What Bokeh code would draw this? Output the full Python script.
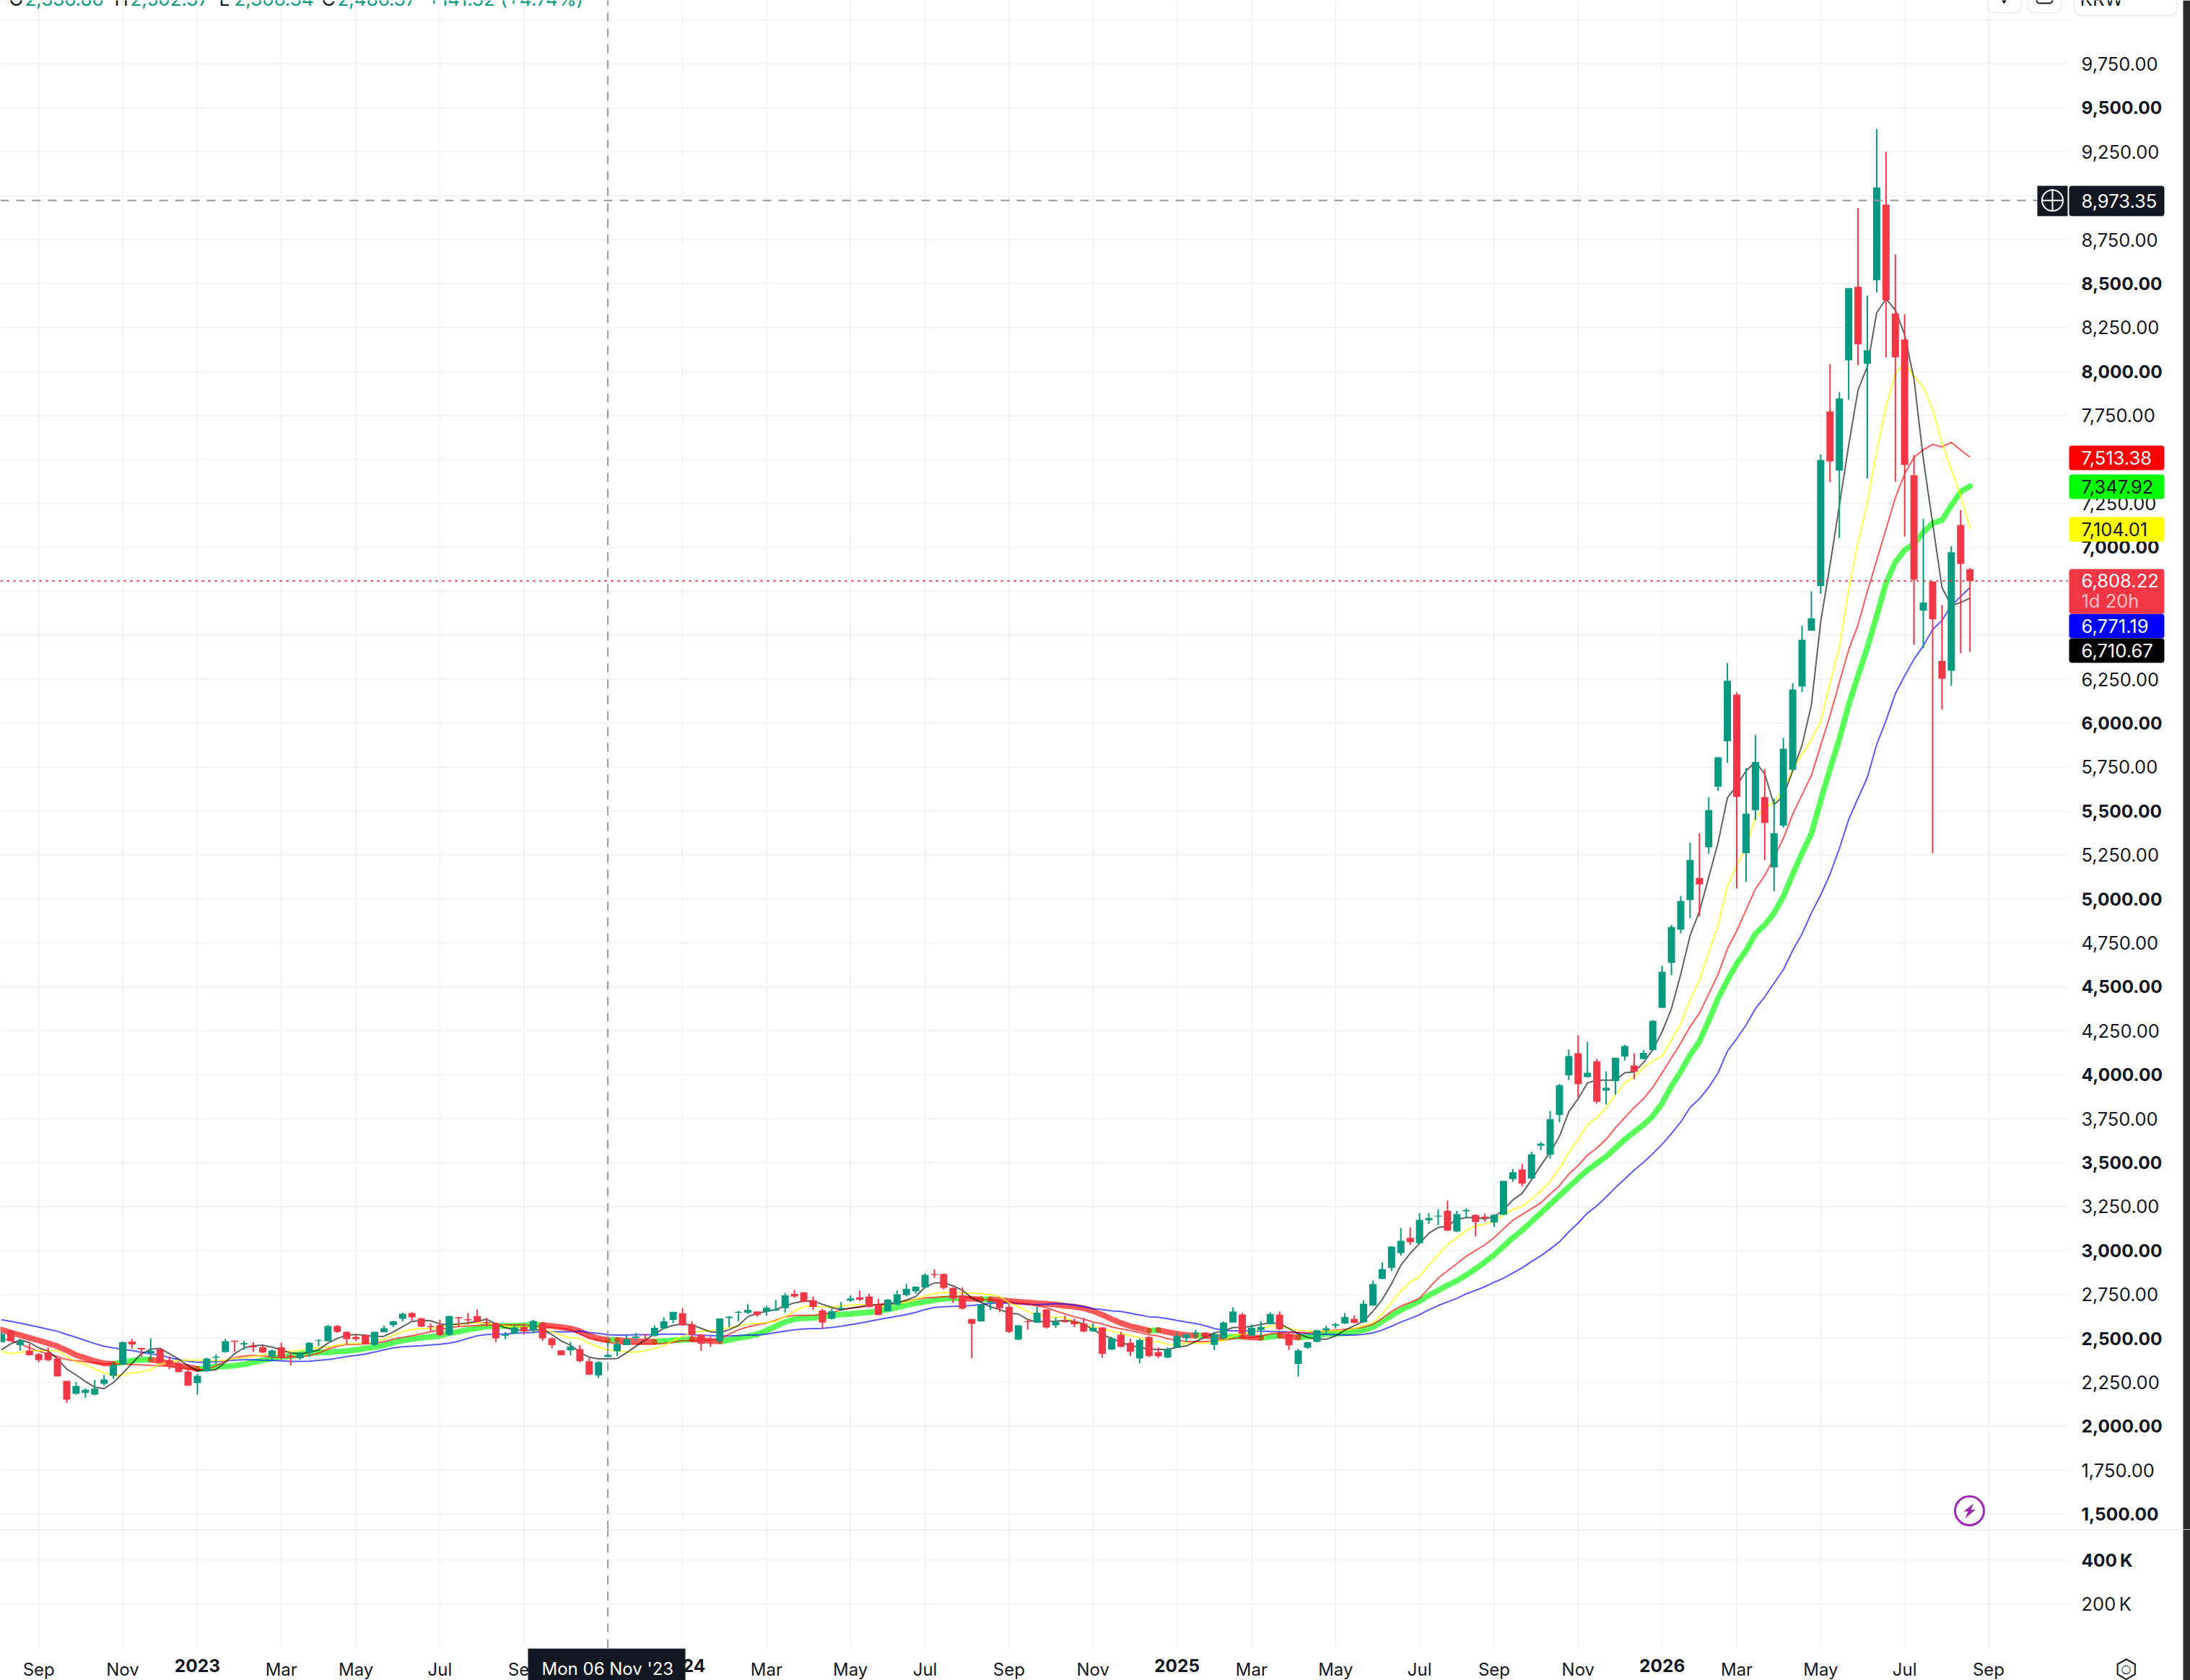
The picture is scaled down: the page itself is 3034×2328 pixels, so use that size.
from bokeh.embed import file_html
from bokeh.resources import INLINE
from bokeh.plotting import figure
from bokeh.layouts import column
from bokeh.models import (BoxAnnotation, ColumnDataSource, FixedTicker, Label,
                          LinearAxis, NumeralTickFormatter, Range1d)

# ---------- weekly candles ----------
opens = [2478,2541,2461,2431,2410,2419,2385,2258,2184,2189,
 2180,2242,2287,2352,2482,2446,2416,2440,2376,2357,
 2311,2246,2313,2390,2422,2487,2466,2458,2449,2397,
 2449,2402,2387,2419,2487,2484,2570,2537,2508,2519,
 2463,2535,2576,2611,2644,2614,2570,2576,2520,2620,
 2609,2627,2593,2587,2515,2528,2564,2546,2585,2500,
 2432,2432,2439,2370,2289,2394,2427,2462,2501,2521,
 2514,2557,2605,2643,2580,2521,2495,2485,2616,2646,
 2646,2653,2653,2658,2672,2753,2761,2717,2659,2611,
 2666,2715,2733,2738,2692,2654,2692,2746,2768,2789,
 2865,2866,2787,2745,2610,2597,2702,2712,2679,2493,
 2597,2590,2664,2574,2600,2598,2585,2541,2562,2436,
 2521,2475,2386,2508,2422,2391,2447,2501,2526,2533,
 2463,2501,2590,2636,2516,2549,2582,2635,2526,2355,
 2447,2480,2546,2572,2585,2611,2592,2687,2838,2901,
 2985,3072,3041,3172,3193,3226,3108,3223,3202,3192,
 3159,3203,3406,3461,3409,3596,3545,3771,3996,4122,
 3986,4076,3910,3963,4103,4052,4089,4140,4380,4636,
 4825,4993,5119,5293,5638,5897,6162,5260,5505,5579,
 5179,5417,5734,6208,6526,6780,7772,7436,8064,8482,
 8044,8520,8950,8330,8182,7410,6640,6805,6354,6298,
 7127,6875]
closes = [2526,2485,2484,2404,2376,2376,2284,2151,2229,2208,
 2214,2266,2349,2479,2466,2437,2429,2364,2352,2308,
 2231,2287,2385,2396,2484,2481,2473,2449,2420,2431,
 2388,2396,2414,2475,2491,2570,2537,2496,2496,2466,
 2537,2558,2597,2640,2620,2567,2564,2519,2627,2614,
 2603,2594,2587,2500,2522,2562,2540,2599,2500,2461,
 2404,2453,2371,2294,2365,2406,2468,2495,2511,2518,
 2560,2597,2651,2574,2521,2470,2488,2613,2623,2651,
 2662,2633,2674,2666,2745,2738,2708,2679,2590,2654,
 2674,2727,2720,2679,2633,2720,2751,2782,2794,2861,
 2860,2787,2726,2669,2583,2692,2708,2672,2537,2574,
 2592,2646,2562,2595,2592,2580,2539,2559,2412,2500,
 2452,2424,2491,2399,2398,2437,2513,2523,2533,2510,
 2523,2590,2653,2526,2561,2565,2638,2552,2460,2431,
 2478,2546,2557,2580,2621,2588,2697,2809,2894,3022,
 3055,3047,3174,3185,3198,3113,3207,3230,3162,3184,
 3202,3396,3445,3381,3547,3608,3747,3940,4106,3946,
 4011,3846,3925,4096,4163,4017,4124,4306,4585,4840,
 4988,5221,5082,5505,5805,6241,5580,5485,5779,5432,
 5374,5854,6191,6474,6596,7496,7489,7846,8474,8155,
 8121,9047,8405,8081,7469,6816,6686,6591,6252,6972,
 6906,6808]
highs = [2534,2549,2496,2470,2416,2449,2391,2258,2252,2216,
 2264,2292,2360,2482,2497,2446,2500,2443,2397,2370,
 2334,2299,2390,2410,2496,2487,2485,2479,2458,2437,
 2476,2419,2419,2479,2494,2576,2576,2540,2522,2522,
 2537,2573,2600,2646,2649,2617,2585,2606,2627,2623,
 2644,2664,2617,2591,2537,2573,2585,2606,2594,2506,
 2432,2479,2462,2386,2370,2480,2485,2516,2531,2524,
 2574,2620,2651,2672,2597,2524,2511,2613,2626,2656,
 2694,2654,2685,2718,2759,2776,2764,2738,2669,2669,
 2708,2745,2771,2754,2725,2725,2774,2810,2796,2870,
 2893,2870,2791,2791,2610,2695,2713,2725,2695,2577,
 2610,2679,2667,2618,2630,2613,2616,2587,2562,2508,
 2537,2498,2498,2511,2449,2449,2533,2526,2549,2536,
 2536,2597,2677,2644,2579,2597,2648,2653,2530,2441,
 2482,2549,2572,2588,2644,2631,2717,2827,2932,3024,
 3128,3131,3213,3213,3235,3284,3226,3239,3205,3210,
 3208,3396,3463,3493,3562,3618,3794,3948,4142,4224,
 4188,4089,4019,4098,4170,4122,4140,4311,4619,4852,
 5017,5320,5374,5579,5808,6343,6176,5744,5933,5739,
 5570,5916,6227,6554,6749,7529,8042,7882,8474,8930,
 8432,9380,9250,8666,8326,7525,7161,6805,6671,7006,
 7211,6882]
lows = [2478,2485,2431,2404,2364,2370,2284,2133,2180,2161,
 2177,2231,2270,2349,2443,2394,2379,2358,2325,2307,
 2229,2180,2311,2352,2419,2422,2435,2422,2416,2379,
 2379,2346,2379,2394,2455,2482,2531,2464,2485,2464,
 2455,2534,2564,2596,2600,2564,2540,2512,2515,2570,
 2579,2591,2567,2479,2496,2525,2522,2528,2485,2443,
 2404,2404,2363,2291,2274,2393,2399,2462,2488,2478,
 2511,2554,2587,2572,2510,2429,2452,2475,2564,2598,
 2639,2623,2630,2656,2646,2731,2705,2662,2554,2607,
 2656,2708,2712,2676,2631,2653,2690,2738,2754,2784,
 2843,2778,2702,2664,2388,2595,2662,2649,2531,2490,
 2549,2587,2556,2559,2590,2564,2534,2537,2389,2434,
 2449,2399,2358,2393,2388,2388,2445,2480,2503,2498,
 2434,2495,2590,2496,2513,2506,2579,2547,2434,2283,
 2441,2477,2529,2556,2582,2585,2590,2685,2837,2884,
 2970,3032,3037,3151,3142,3111,3105,3184,3080,3164,
 3134,3202,3391,3364,3406,3570,3521,3729,3969,3871,
 3984,3836,3830,3887,4081,3974,4088,4139,4380,4566,
 4804,4891,4900,5257,5614,5774,5060,5097,5448,5220,
 5043,5405,5732,6176,6525,6736,7370,7052,7839,8036,
 7392,8450,8080,7373,7061,6446,6426,5260,6077,6213,
 6397,6406]

# ---------- moving averages ----------
ma_black = [2435,2469,2491,2476,2446,2428,2385,2325,2292,2255,
 2222,2214,2249,2302,2358,2413,2438,2443,2413,2382,
 2344,2317,2317,2322,2364,2413,2446,2458,2461,2450,
 2434,2417,2413,2419,2435,2473,2500,2518,2522,2518,
 2511,2512,2537,2567,2596,2602,2600,2582,2576,2582,
 2588,2597,2609,2582,2561,2549,2544,2549,2549,2522,
 2485,2461,2420,2393,2383,2383,2385,2418,2455,2491,
 2524,2557,2574,2582,2577,2557,2537,2533,2549,2574,
 2623,2643,2653,2664,2685,2702,2712,2713,2694,2676,
 2662,2672,2680,2689,2692,2692,2702,2718,2738,2791,
 2815,2815,2799,2774,2730,2705,2680,2664,2643,2639,
 2607,2593,2597,2598,2602,2597,2582,2549,2521,2500,
 2478,2459,2449,2439,2437,2437,2449,2457,2482,2506,
 2531,2542,2562,2562,2569,2579,2588,2585,2556,2526,
 2506,2495,2495,2514,2547,2572,2597,2654,2720,2810,
 2917,2983,3041,3098,3131,3139,3177,3187,3187,3180,
 3193,3230,3287,3325,3402,3484,3558,3649,3789,3863,
 3953,3969,3969,3969,4011,4015,4068,4142,4244,4375,
 4571,4792,4928,5124,5320,5575,5643,5728,5779,5711,
 5536,5584,5728,5873,6103,6576,6899,7238,7580,7894,
 8028,8334,8413,8350,8209,7957,7502,7137,6771,6669,
 6686,6711]
ma_yellow = [2425,2413,2420,2428,2431,2431,2431,2397,2367,2352,
 2325,2304,2289,2292,2304,2310,2322,2355,2364,2375,
 2376,2375,2376,2373,2375,2385,2390,2397,2405,2416,
 2420,2428,2432,2443,2446,2450,2461,2470,2470,2473,
 2485,2496,2518,2537,2552,2556,2556,2564,2576,2579,
 2585,2591,2587,2576,2570,2564,2564,2564,2552,2537,
 2518,2503,2500,2472,2450,2434,2429,2422,2422,2429,
 2442,2459,2488,2511,2533,2541,2544,2554,2560,2570,
 2582,2585,2590,2598,2623,2656,2680,2685,2679,2676,
 2685,2689,2692,2692,2685,2685,2697,2708,2722,2741,
 2754,2761,2761,2758,2758,2754,2748,2738,2702,2680,
 2653,2636,2623,2620,2618,2593,2574,2564,2557,2541,
 2528,2516,2505,2483,2482,2465,2462,2473,2473,2473,
 2482,2490,2515,2526,2536,2556,2569,2572,2556,2547,
 2542,2539,2542,2542,2547,2556,2572,2588,2638,2704,
 2769,2819,2852,2917,2975,3032,3073,3115,3139,3151,
 3164,3205,3233,3249,3295,3337,3394,3468,3558,3632,
 3715,3756,3813,3887,3953,3986,4043,4076,4106,4197,
 4290,4426,4537,4699,4852,5073,5192,5294,5465,5516,
 5550,5618,5737,5822,5907,6010,6230,6430,6763,7030,
 7250,7549,7800,7989,8051,7973,7910,7784,7596,7439,
 7297,7104]
ma_red = [2500,2485,2470,2446,2428,2410,2397,2379,2373,2367,
 2361,2355,2355,2355,2352,2349,2346,2344,2340,2334,
 2328,2322,2325,2344,2370,2390,2400,2403,2400,2394,
 2391,2394,2394,2403,2416,2440,2455,2466,2466,2470,
 2473,2481,2496,2506,2515,2526,2537,2549,2561,2567,
 2570,2573,2576,2576,2576,2576,2576,2570,2567,2564,
 2558,2549,2524,2500,2488,2478,2470,2468,2467,2467,
 2468,2472,2478,2487,2488,2488,2488,2495,2524,2549,
 2565,2577,2587,2603,2623,2631,2631,2631,2639,2646,
 2662,2672,2677,2685,2692,2702,2702,2713,2722,2730,
 2733,2736,2738,2738,2730,2722,2718,2713,2708,2702,
 2697,2685,2676,2656,2639,2623,2610,2593,2582,2565,
 2554,2544,2533,2521,2514,2498,2490,2482,2482,2482,
 2485,2490,2498,2506,2506,2513,2526,2531,2534,2534,
 2531,2536,2542,2547,2552,2556,2564,2580,2613,2654,
 2684,2704,2728,2786,2843,2884,2925,2967,3000,3032,
 3073,3123,3172,3205,3238,3271,3320,3369,3435,3484,
 3542,3583,3632,3698,3756,3813,3863,3928,4010,4095,
 4180,4273,4350,4460,4571,4716,4818,4937,5056,5133,
 5235,5345,5482,5592,5703,5873,6043,6231,6418,6559,
 6750,6925,7103,7282,7418,7512,7554,7585,7571,7597,
 7554,7513]
ma_thick = [2549,2533,2518,2503,2488,2472,2455,2431,2405,2388,
 2370,2358,2355,2364,2373,2379,2379,2370,2355,2344,
 2337,2326,2331,2340,2340,2345,2352,2364,2375,2385,
 2394,2400,2410,2416,2420,2420,2425,2428,2435,2443,
 2450,2461,2476,2488,2496,2503,2509,2515,2530,2538,
 2549,2559,2567,2570,2571,2571,2574,2576,2576,2570,
 2564,2556,2541,2515,2500,2490,2491,2486,2483,2482,
 2481,2485,2489,2491,2495,2491,2485,2483,2491,2503,
 2511,2524,2544,2570,2593,2610,2615,2616,2623,2631,
 2636,2639,2644,2648,2656,2664,2676,2689,2700,2708,
 2718,2725,2728,2728,2725,2722,2722,2718,2713,2708,
 2705,2700,2697,2692,2685,2680,2672,2656,2634,2610,
 2587,2569,2557,2544,2547,2536,2526,2519,2516,2516,
 2510,2506,2510,2510,2506,2503,2510,2516,2510,2506,
 2510,2515,2526,2526,2529,2536,2547,2564,2597,2630,
 2662,2687,2712,2745,2773,2802,2827,2860,2896,2934,
 2975,3024,3073,3115,3164,3213,3263,3312,3361,3410,
 3457,3496,3534,3583,3632,3674,3715,3764,3838,3935,
 4018,4112,4188,4307,4435,4537,4631,4707,4801,4852,
 4920,5014,5141,5260,5371,5560,5740,5910,6105,6269,
 6431,6610,6797,6916,6984,7018,7086,7137,7154,7239,
 7316,7348]
ma_blue = [2606,2597,2587,2575,2564,2552,2540,2522,2506,2488,
 2470,2455,2446,2438,2431,2420,2412,2405,2390,2379,
 2370,2364,2364,2367,2372,2376,2378,2378,2376,2375,
 2372,2369,2369,2370,2375,2379,2387,2397,2403,2411,
 2422,2435,2446,2452,2455,2458,2462,2467,2473,2484,
 2500,2515,2522,2523,2525,2529,2531,2534,2540,2538,
 2537,2537,2541,2533,2528,2521,2519,2519,2521,2521,
 2521,2524,2524,2524,2521,2518,2516,2514,2514,2516,
 2519,2519,2524,2533,2541,2549,2554,2556,2557,2562,
 2569,2577,2587,2597,2607,2616,2626,2636,2648,2664,
 2676,2680,2682,2684,2687,2692,2699,2702,2702,2699,
 2694,2692,2694,2697,2695,2689,2680,2669,2664,2656,
 2653,2643,2633,2623,2620,2612,2602,2593,2585,2572,
 2556,2547,2542,2542,2542,2541,2539,2538,2536,2531,
 2526,2524,2523,2521,2519,2519,2523,2531,2547,2569,
 2592,2613,2635,2662,2687,2707,2728,2753,2773,2794,
 2819,2843,2871,2901,2937,2970,3008,3049,3106,3156,
 3213,3254,3304,3358,3407,3457,3501,3550,3604,3665,
 3731,3813,3863,3928,4010,4134,4205,4282,4375,4443,
 4520,4597,4707,4801,4920,5022,5141,5286,5452,5572,
 5691,5878,6014,6167,6269,6363,6440,6533,6584,6669,
 6720,6771]

# ---------- ticks ----------
month_idx = [4,13,30,38,47,56,82,91,99,108,117,134,143,152,160,169,186,195,204,213]
month_lbl = ["Sep","Nov","Mar","May","Jul","Sep","Mar","May","Jul","Sep","Nov",
             "Mar","May","Jul","Sep","Nov","Mar","May","Jul","Sep"]
year_idx = [21,73,126,178]
year_lbl = ["2023","2024","2025","2026"]
grid_idx = month_idx + year_idx + [65]
price_ticks_regular = [1750,2250,2750,3250,3750,4250,4750,5250,5750,6250,7250,7750,8250,8750,9250,9750]
price_ticks_bold = [1500,2000,2500,3000,3500,4000,4500,5000,5500,6000,7000,8000,8500,9500]
price_grid = list(range(1500, 10001, 250))
volume_ticks = [200000, 400000]
last_price, cross_price, cross_bar = 6808.22, 8973.35, 65

legend_parts = [("O", 12, "#131722"), ("2,336.86", 34, "#089981"),
                ("H", 158, "#131722"), ("2,502.37", 180, "#089981"),
                ("L", 303, "#131722"), ("2,306.34", 324, "#089981"),
                ("C", 445, "#131722"), ("2,486.37", 467, "#089981"),
                ("+141.32 (+4.74%)", 592, "#089981")]

# (text, top px, bottom px, fill, text colour)
tags = [("7,513.38",617,651,"#ff0000","#ffffff"),
        ("7,347.92",657,691,"#00ff00","#131722"),
        ("7,104.01",716,750,"#ffff00","#131722"),
        ("6,771.19",850,884,"#0000ff","#ffffff"),
        ("6,710.67",884,918,"#000000","#ffffff")]

GREEN, RED, INK = "#089981", "#f23645", "#131722"
GRID = "#f3f3f4"
CROSS = "#9598a1"
FONT = "Inter"
SIZE = "25.5px"
BOLD_SIZE = "24.5px"
TIME_SIZE = "24px"

# page pixel -> data helpers for the chart furniture
def x2i(px): return (px - 1.5) / 12.925
def y2v(py): return 1500 + (2097.7 - py) / 0.2436
def y2k(py): return (2283 - py) / 61 * 200000

W = 3034
PANE_RIGHT = x2i(2864)
x_range = Range1d(x2i(0), x2i(W))

def make_fig(height, yr):
    f = figure(width=W, height=height, x_range=x_range, y_range=yr,
               output_backend="svg", toolbar_location=None, tools="",
               x_axis_location=None, y_axis_location=None,
               min_border_left=0, min_border_top=0, min_border_bottom=0, min_border_right=0,
               outline_line_color=None, background_fill_color="#ffffff", border_fill_color="#ffffff")
    f.grid.visible = False
    return f

def make_axis(ticks, standoff, bold=False, fixed=PANE_RIGHT, size=None, **kw):
    a = LinearAxis(ticker=FixedTicker(ticks=ticks), fixed_location=fixed, **kw)
    a.axis_line_color = None
    a.major_tick_line_color = None
    a.minor_tick_line_color = None
    a.major_label_text_font = FONT
    a.major_label_text_font_size = size or (BOLD_SIZE if bold else SIZE)
    a.major_label_text_color = INK
    a.major_label_text_font_style = "bold" if bold else "normal"
    a.major_tick_in = 0
    a.major_tick_out = 0
    a.major_label_standoff = standoff
    return a

def box(fig, off, l, r, t, b, fill, radius=0, line=None):
    fig.add_layout(BoxAnnotation(left=l, right=r, top=t-off, bottom=b-off,
                                 left_units="canvas", right_units="canvas",
                                 top_units="canvas", bottom_units="canvas",
                                 fill_color=fill or "#ffffff", fill_alpha=1 if fill else 0,
                                 line_color=line, line_width=2, line_alpha=1 if line else 0,
                                 border_radius=radius, level="overlay"))

def text(fig, off, s, x, y, col, size=SIZE, font=FONT, align="left", baseline="middle", alpha=1.0):
    fig.add_layout(Label(x=x, y=y-off, x_units="canvas", y_units="canvas", text=s, text_color=col,
                         text_alpha=alpha, text_font=font, text_font_size=size,
                         text_baseline=baseline, text_align=align, level="overlay"))

# ---------- price pane ----------
p = make_fig(2119, Range1d(y2v(2119), y2v(0)))
fmt = NumeralTickFormatter(format="0,0.00")
p.add_layout(make_axis(price_ticks_regular, 19, formatter=fmt), "right")
p.add_layout(make_axis(price_ticks_bold, 19, bold=True, formatter=fmt), "right")

p.segment(x0=grid_idx, x1=grid_idx, y0=y2v(2119), y1=y2v(0), line_color=GRID, line_width=2)
p.segment(x0=x2i(0), x1=PANE_RIGHT, y0=price_grid, y1=price_grid, line_color=GRID, line_width=2)

bars = list(range(len(opens)))
# thick average, coloured by its direction
runs = {"#00ff00": ([], []), "#ff0000": ([], [])}
run_x, run_y, run_c = [bars[0]], [ma_thick[0]], None
for k in range(1, len(ma_thick)):
    c = "#00ff00" if ma_thick[k] >= ma_thick[k-1] else "#ff0000"
    if run_c is not None and c != run_c:
        runs[run_c][0].append(run_x); runs[run_c][1].append(run_y)
        run_x, run_y = [bars[k-1]], [ma_thick[k-1]]
    run_x.append(bars[k]); run_y.append(ma_thick[k]); run_c = c
runs[run_c][0].append(run_x); runs[run_c][1].append(run_y)
for col, (xs, ys) in runs.items():
    p.multi_line(xs, ys, line_color=col, line_alpha=0.65, line_width=8,
                 line_join="round", line_cap="round")

p.line(bars, ma_blue, line_color="#0000ff", line_alpha=0.65, line_width=2)
p.line(bars, ma_red, line_color="#ff0000", line_alpha=0.65, line_width=2)
p.line(bars, ma_yellow, line_color="#ffff00", line_alpha=0.75, line_width=2)
p.line(bars, ma_black, line_color="#000000", line_alpha=0.62, line_width=2)

cds = ColumnDataSource(dict(
    x=bars, o=opens, h=highs, l=lows, c=closes,
    top=[max(a, b) for a, b in zip(opens, closes)],
    bot=[min(a, b) for a, b in zip(opens, closes)],
    col=[GREEN if c >= o else RED for o, c in zip(opens, closes)]))
p.segment("x", "h", "x", "l", source=cds, line_color="col", line_width=2)
p.vbar("x", 10/12.925, "top", "bot", source=cds, fill_color="col", line_color=None)

# last-price dotted line and crosshair
p.line([x2i(0), PANE_RIGHT], [last_price, last_price], line_color=RED, line_width=2, line_dash="3 6")
p.line([x2i(0), x2i(2822)], [cross_price, cross_price], line_color=CROSS, line_width=2, line_dash="12 10")
p.line([cross_bar, cross_bar], [y2v(2119), y2v(0)], line_color=CROSS, line_width=2, line_dash="12 10")

# crosshair "+" button
p.quad(left=[x2i(2822)], right=[x2i(2864)], top=[y2v(257)], bottom=[y2v(299)], fill_color=INK, line_color=None)
p.scatter([x2i(2843)], [cross_price], marker="circle_cross", size=29, fill_color=None,
          line_color="#ffffff", line_width=2)

# lightning badge
p.scatter([x2i(2728)], [y2v(2093)], marker="circle", size=40, fill_color="#ffffff",
          line_color="#9c27b0", line_width=3)
bolt = [(6,-10.5),(-8,1),(-2,1),(-6,10.5),(8.5,-1.5),(2,-1.5)]
p.patch([x2i(2728+a) for a, b in bolt], [y2v(2093+b) for a, b in bolt], fill_color="#9c27b0", line_color=None)

for s, x, col in legend_parts:
    text(p, 0, s, x, -2, col, size="26px", baseline="alphabetic")

# top-right buttons, cut by the top edge
p.scatter([x2i(2776)], [y2v(-1)], marker="diamond", size=12, fill_color=INK, line_color=None)
box(p, 0, 2753, 2799, -30, 17, None, 8, "#eceef0")
box(p, 0, 2809, 2855, -30, 17, None, 8, "#eceef0")
box(p, 0, 2873, 3015, -30, 21, None, 8, "#eceef0")
box(p, 0, 2821, 2843, -20, 4, None, 4, INK)
text(p, 0, "KRW", 2881, -2, INK, size="26px", baseline="alphabetic")

# price tags
for s, t, b, fill, col in tags:
    box(p, 0, 2866, 2998, t, b, fill, 4)
    text(p, 0, s, 2883, (t + b) / 2, col)
box(p, 0, 2866, 2998, 788, 850, RED, 4)
text(p, 0, "6,808.22", 2883, 804, "#ffffff")
text(p, 0, "1d 20h", 2883, 832, "#ffffff", alpha=0.7)
box(p, 0, 2866, 2998, 257, 299, INK, 4)
text(p, 0, "8,973.35", 2883, 278, "#ffffff")
box(p, 0, 3024, 3034, 0, 2119, "#2a2a2a")

# ---------- volume pane and time axis ----------
OFF = 2119
v = make_fig(2328-OFF, Range1d(y2k(2328), y2k(OFF)))
v.add_layout(make_axis([200000], 19, major_label_overrides={200000: "200\u2009K"}), "right")
v.add_layout(make_axis([400000], 19, bold=True, major_label_overrides={400000: "400\u2009K"}), "right")
v.add_layout(make_axis(month_idx, 15, fixed=0, size=TIME_SIZE, major_label_overrides=dict(zip(month_idx, month_lbl))), "below")
v.add_layout(make_axis(year_idx, 15, bold=True, fixed=0, major_label_overrides=dict(zip(year_idx, year_lbl))), "below")

v.segment(x0=grid_idx, x1=grid_idx, y0=0, y1=y2k(OFF), line_color=GRID, line_width=2)
v.segment(x0=x2i(0), x1=PANE_RIGHT, y0=volume_ticks, y1=volume_ticks, line_color=GRID, line_width=2)
v.line([cross_bar, cross_bar], [0, y2k(OFF)], line_color=CROSS, line_width=2, line_dash="12 10")

box(v, OFF, 0, 3024, 2118, 2120, "#e0e3eb")
box(v, OFF, 731, 949, 2284, 2328, INK)
text(v, OFF, "Mon 06 Nov '23", 750, 2312, "#ffffff", size=TIME_SIZE)
box(v, OFF, 3024, 3034, 2119, 2328, "#2a2a2a")
text(v, OFF, "\u2b21", 2945, 2312, INK, size="36px", font="DejaVu Sans", align="center")
text(v, OFF, "\u25cb", 2945, 2312, INK, size="16px", font="DejaVu Sans", align="center")

layout = column(p, v, spacing=0)
open("out.html", "w").write(file_html(layout, INLINE))
